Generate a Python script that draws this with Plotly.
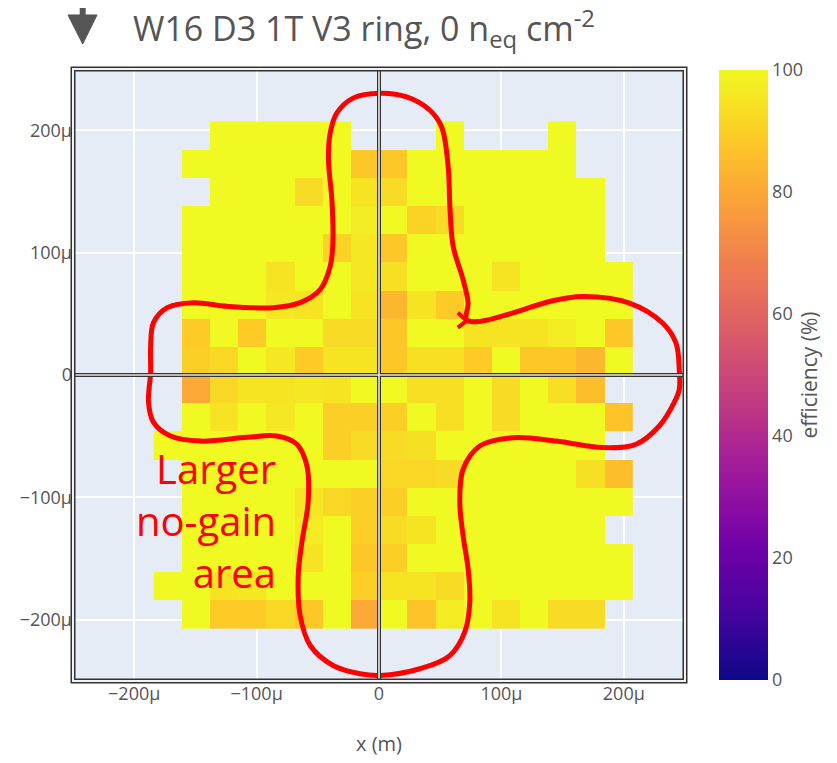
import plotly.graph_objects as go

N = None
# bin centres (micrometres); bin width 23 um
x_centers_um = [-172.5, -149.5, -126.5, -103.5, -80.5, -57.5, -34.5, -11.5,
                11.5, 34.5, 57.5, 80.5, 103.5, 126.5, 149.5, 172.5, 195.5]
y_centers_um = [195.5, 172.5, 149.5, 126.5, 103.5, 80.5, 57.5, 34.5, 11.5,
                -11.5, -34.5, -57.5, -80.5, -103.5, -126.5, -149.5, -172.5, -195.5]

# efficiency (%) rows from top (y=+195.5um) to bottom (y=-195.5um)
efficiency = [
    [N, N, 100, 100, 100, 100, 100, N, N, N, 100, N, N, N, 100, N, N],
    [N, 100, 100, 100, 100, 100, 100, 88, 88, 100, 100, 100, 100, 100, 100, N, N],
    [N, N, 100, 100, 100, 93, 100, 95, 93, 100, 100, 100, 100, 100, 100, 100, N],
    [N, 100, 100, 100, 100, 100, 100, 97, 100, 91, 93, 100, 100, 100, 100, 100, N],
    [N, 100, 100, 100, 100, 100, 91, 96, 88, 100, 100, 100, 100, 100, 100, 100, N],
    [N, 100, 100, 100, 95, 100, 100, 96, 94, 100, 100, 100, 95, 100, 100, 100, 100],
    [N, 100, 100, 100, 96, 95, 100, 95, 84, 95, 89, 100, 100, 100, 100, 100, 100],
    [N, 89, 100, 89, 100, 100, 93, 93, 88, 100, 100, 95, 95, 95, 97, 100, 88],
    [N, 90, 92, 100, 96, 89, 95, 95, 88, 94, 94, 89, 100, 88, 88, 84, 100],
    [N, 80, 92, 95, 95, 96, 95, 100, 100, 94, 94, 100, 93, 100, 94, 86, N],
    [N, 100, 95, 100, 96, 100, 90, 90, 90, 100, 94, 100, 93, 100, 100, 100, 87],
    [100, 100, 100, 100, 100, 100, 90, 93, 93, 94, 100, 100, 100, 100, 100, 100, N],
    [N, 100, 100, 100, 100, 100, 100, 100, 92, 92, 93, 100, 100, 100, 100, 94, 86],
    [N, 100, 100, 100, 100, 96, 92, 90, 90, 100, 100, 100, 100, 100, 100, 100, 100],
    [N, 100, 100, 100, 100, 97, 100, 90, 93, 95, 100, 100, 100, 100, 100, 100, N],
    [N, 100, 100, 100, 100, 95, 100, 88, 90, 100, 100, 100, 100, 100, 100, 100, 100],
    [100, 100, 95, 96, 100, 100, 100, 90, 95, 95, 93, 100, 100, 100, 100, 100, 100],
    [N, 100, 89, 89, 92, 88, 100, 80, 100, 87, 97, 100, 95, 100, 93, 93, N],
]

tick_vals_um = [-200, -100, 0, 100, 200]
tick_labels = ["\u2212200\u00b5", "\u2212100\u00b5", "0", "100\u00b5", "200\u00b5"]
cbar_ticks = [0, 20, 40, 60, 80, 100]

# hand-drawn red outline (micrometres)
outline_x_um = [0.8, 22.6, 41.6, 51.1, 56.5, 57.9, 60.6, 68.7, 72.8, 71.5,
                82.3, 109.5, 139.4, 166.5, 204.6, 231.7, 242.6, 245.3, 245.3, 241.2,
                229.0, 210.0, 182.8, 144.8, 109.5, 82.3, 68.7, 66.0, 68.7, 72.8,
                74.2, 70.1, 57.9, 33.4, 0.8, -15.5, -37.5, -56.2, -64.4, -66.0,
                -63.0, -57.9, -58.9, -67.1, -83.4, -107.8, -145.9, -170.3, -184.2, -188.3,
                -186.6, -186.6, -184.2, -173.0, -151.6, -124.1, -86.4, -64.4, -48.1, -39.9,
                -37.7, -38.5, -41.3, -39.9, -34.5, -21.2, 0.8]
outline_y_um = [230.2, 227.2, 216.3, 202.8, 170.2, 137.6, 105.0, 77.8, 58.8, 45.2,
                43.8, 50.7, 60.1, 64.2, 58.8, 42.5, 26.2, 4.5, -11.8, -22.4,
                -41.7, -56.6, -59.3, -54.0, -51.2, -58.0, -77.0, -103.9, -131.4, -158.5,
                -185.4, -209.9, -229.2, -240.0, -245.5, -244.1, -237.3, -221.0, -196.6, -164.0,
                -136.5, -103.9, -74.3, -56.6, -49.9, -50.9, -54.0, -49.9, -38.7, -22.4,
                2.0, 23.5, 42.8, 55.0, 59.1, 56.1, 55.0, 59.1, 69.7, 88.7,
                108.0, 143.0, 175.6, 197.6, 213.9, 226.2, 230.2]
hook_x_um = [64.4, 71.7, 64.4]
hook_y_um = [50.9, 44.4, 38.7]

note_text = "Larger<br>no-gain<br>area"
note_x_um, note_y_um = -82.3, -118.6

FONT = "Open Sans"
GREY = "#555555"

W, H = 837, 763
ML, MR, MT, MB = 65, 160, 61, 90
PW, PH = W - ML - MR, H - MT - MB


def px(xp):
    return (xp - ML) / PW


def py(yp):
    return (H - MB - yp) / PH


um = 1e-6
fig = go.Figure()
fig.add_trace(go.Heatmap(
    x=[v * um for v in x_centers_um],
    y=[v * um for v in y_centers_um],
    z=efficiency,
    colorscale="Plasma", zmin=0, zmax=100,
    colorbar=dict(
        x=px(711), xanchor="left", xpad=0,
        y=0.5, yanchor="middle", ypad=0,
        len=610, lenmode="pixels",
        thickness=49, outlinewidth=0,
        tickvals=cbar_ticks,
        tickfont=dict(family=FONT, size=18, color=GREY),
        title=dict(text="efficiency (%)", side="right",
                   font=dict(family=FONT, size=21, color=GREY)),
    ),
    hoverongaps=False,
))
fig.add_trace(go.Scatter(
    x=[v * um for v in outline_x_um], y=[v * um for v in outline_y_um],
    mode="lines", line=dict(color="#ff0000", width=5, shape="spline", smoothing=1.0),
    showlegend=False, hoverinfo="skip",
))
fig.add_trace(go.Scatter(
    x=[v * um for v in hook_x_um], y=[v * um for v in hook_y_um],
    mode="lines", line=dict(color="#ff0000", width=4),
    showlegend=False, hoverinfo="skip",
))

shapes = []
# zero lines (double line look)
for c, w in (("#333333", 4), ("#e8e8e8", 1.6)):
    shapes.append(dict(type="line", xref="x", yref="paper", x0=0, x1=0, y0=0, y1=1,
                       line=dict(color=c, width=w), layer="above"))
    shapes.append(dict(type="line", xref="paper", yref="y", x0=0, x1=1, y0=0, y1=0,
                       line=dict(color=c, width=w), layer="above"))
# frame (double line look)
for c, w in (("#333333", 5), ("#f2f2f2", 2)):
    shapes.append(dict(type="rect", xref="paper", yref="paper", x0=0, x1=1, y0=0, y1=1,
                       line=dict(color=c, width=w), layer="above"))
# arrow at top left
shapes.append(dict(type="line", xref="paper", yref="paper",
                   x0=px(74.7), x1=px(74.7), y0=py(-2), y1=py(9),
                   line=dict(color=GREY, width=6)))
shapes.append(dict(type="path", xref="paper", yref="paper",
                   path="M {:.5f},{:.5f} L {:.5f},{:.5f} L {:.5f},{:.5f} Z".format(
                       px(60), py(7), px(89), py(7), px(74.7), py(36)),
                   fillcolor=GREY, line=dict(color=GREY, width=1)))

annotations = [dict(text=note_text, x=note_x_um * um, y=note_y_um * um,
                    xref="x", yref="y", xanchor="right", yanchor="middle",
                    align="right", showarrow=False,
                    font=dict(family=FONT, size=40, color="#ff0000"))]

fig.update_layout(
    width=W, height=H,
    margin=dict(l=ML, r=MR, t=MT, b=MB, autoexpand=False),
    paper_bgcolor="white", plot_bgcolor="#E5ECF6",
    font=dict(family=FONT, size=18, color=GREY),
    title=dict(text="W16 D3 1T V3 ring, 0 n<sub>eq</sub> cm<sup>-2</sup>",
               x=125 / W, xanchor="left", xref="container",
               y=1 - 21 / H, yanchor="middle", yref="container",
               font=dict(family=FONT, size=34, color=GREY)),
    shapes=shapes,
    showlegend=False,
    annotations=annotations,
)
fig.update_xaxes(range=[-250 * um, 250 * um], tickvals=[v * um for v in tick_vals_um],
                 ticktext=tick_labels, showgrid=True, gridcolor="white", gridwidth=1.5,
                 zeroline=False, showline=False, ticks="",
                 tickfont=dict(family=FONT, size=18, color=GREY),
                 title=dict(text="x (m)", standoff=32,
                            font=dict(family=FONT, size=20, color=GREY)))
fig.update_yaxes(range=[-250 * um, 250 * um], tickvals=[v * um for v in tick_vals_um],
                 ticktext=tick_labels, showgrid=True, gridcolor="white", gridwidth=1.5,
                 zeroline=False, showline=False, ticks="",
                 tickfont=dict(family=FONT, size=18, color=GREY))

fig.write_html("out.html")
